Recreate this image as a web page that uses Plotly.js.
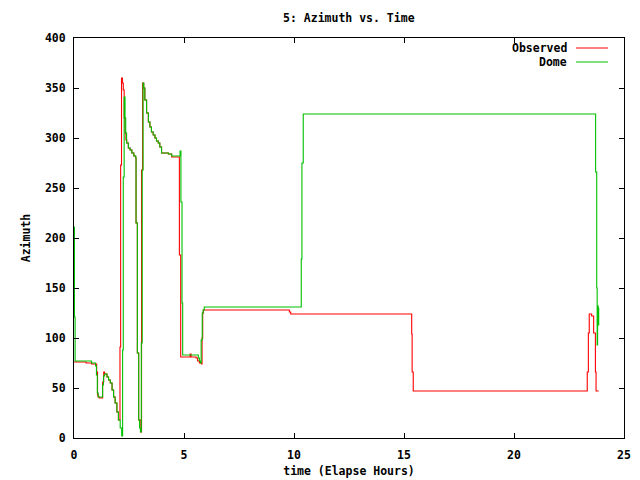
<!DOCTYPE html>
<html>
<head>
<meta charset="utf-8">
<script src="https://cdn.plot.ly/plotly-3.0.1.min.js"></script>
<style>html,body{margin:0;padding:0;background:#fff;}#chart{width:640px;height:480px;}</style>
</head>
<body>
<div id="chart"></div>
<script>
// Observed azimuth (red)
const obsHours = [0.00,0.55,0.80,1.03,1.07,1.10,1.15,1.30,1.35,1.39,1.50,1.57,1.65,1.73,1.80,1.87,1.95,2.02,2.09,2.12,2.16,2.20,2.24,2.28,2.32,2.36,2.40,2.47,2.55,2.63,2.72,2.80,2.82,2.88,2.94,3.04,3.07,3.12,3.17,3.22,3.30,3.38,3.45,3.52,3.60,3.68,3.75,3.83,3.90,3.98,4.13,4.29,4.44,4.79,4.85,5.28,5.32,5.55,5.62,5.70,5.80,5.82,5.85,5.88,9.79,9.85,15.35,15.37,15.42,23.33,23.38,23.42,23.53,23.62,23.70,23.73,23.85];
const obsAz    = [76,75,74,66,43,41,40,56,66,64,61,58,55,48,41,35,26,18,91,273,360,355,348,320,305,298,295,290,288,285,282,280,215,85,18,6,268,355,350,338,325,316,311,306,303,300,297,295,291,285,285,284,281,183,81,84,81,80,77,75,74,100,125,128,126,124,104,66,47,66,105,124,122,105,66,47,47];
// Dome azimuth (green)
const domeHours = [0.00,0.02,0.05,0.80,0.98,1.02,1.06,1.10,1.30,1.34,1.39,1.50,1.57,1.65,1.73,1.80,1.87,1.95,2.02,2.10,2.17,2.21,2.24,2.28,2.32,2.35,2.39,2.47,2.55,2.63,2.72,2.80,2.82,2.88,2.94,2.98,3.02,3.06,3.10,3.14,3.17,3.22,3.30,3.38,3.45,3.52,3.60,3.68,3.75,3.83,3.90,3.98,4.13,4.29,4.44,4.82,4.86,4.91,4.94,5.55,5.65,5.70,5.75,5.78,5.83,5.87,5.92,10.33,10.36,10.42,23.71,23.76,23.78,23.80,23.83,23.85];
const domeAz    = [211,121,77,75,72,63,45,41,53,62,64,61,58,55,48,41,35,26,18,10,2,88,261,341,320,305,295,290,288,285,282,281,215,85,18,10,6,95,268,355,350,338,325,316,311,306,303,300,297,295,291,285,285,284,282,287,236,135,83,83,80,77,75,98,125,128,131,179,275,324,266,150,93,132,113,130];

const seriesNames = ["Observed", "Dome"];
const seriesColors = ["#ff0000", "#00c000"];
const xTicks = [0,5,10,15,20,25];
const yTicks = [0,50,100,150,200,250,300,350,400];

const FONT = "DejaVu Sans Mono, monospace";
const fnt = {family: FONT, size: 11.5, color: "#000", weight: "bold"};

const traces = [
  {x: obsHours, y: obsAz, name: seriesNames[0], type: "scatter", mode: "lines",
   line: {color: seriesColors[0], width: 1.1, shape: "hv"}, showlegend: false},
  {x: domeHours, y: domeAz, name: seriesNames[1], type: "scatter", mode: "lines",
   line: {color: seriesColors[1], width: 1.1, shape: "hv"}, showlegend: false}
];

const axisCommon = {
  showgrid: false, zeroline: false, showline: true, linecolor: "#000", linewidth: 1,
  mirror: "ticks", ticks: "inside", ticklen: 5, tickcolor: "#000", tickwidth: 1,
  tickfont: fnt
};

const layout = {
  width: 640, height: 480,
  margin: {l: 74, r: 16, t: 38, b: 42, pad: 0},
  paper_bgcolor: "#fff", plot_bgcolor: "#fff",
  font: fnt,
  title: {text: "5: Azimuth vs. Time", x: 0.545, xanchor: "center", y: 0.962, yanchor: "middle", font: fnt},
  xaxis: Object.assign({}, axisCommon, {range: [0, 25], tickvals: xTicks, ticktext: xTicks.map(String),
    ticklabelstandoff: 6, title: {text: "time (Elapse Hours)", standoff: 6, font: fnt}}),
  yaxis: Object.assign({}, axisCommon, {range: [0, 400], tickvals: yTicks, ticktext: yTicks.map(String),
    ticklabelstandoff: 5, title: {text: "Azimuth", standoff: 11, font: fnt}}),
  annotations: [
    {xref: "paper", yref: "paper", x: (569-74)/550, y: (438-48)/400, xanchor: "right", yanchor: "middle",
     text: seriesNames[0], showarrow: false, font: fnt},
    {xref: "paper", yref: "paper", x: (569-74)/550, y: (438-62)/400, xanchor: "right", yanchor: "middle",
     text: seriesNames[1], showarrow: false, font: fnt}
  ],
  shapes: [
    {type: "line", xref: "paper", yref: "paper", x0: (576-74)/550, x1: (608-74)/550,
     y0: (438-48)/400, y1: (438-48)/400, line: {color: seriesColors[0], width: 1}},
    {type: "line", xref: "paper", yref: "paper", x0: (576-74)/550, x1: (608-74)/550,
     y0: (438-62)/400, y1: (438-62)/400, line: {color: seriesColors[1], width: 1}}
  ]
};

Plotly.newPlot("chart", traces, layout, {displayModeBar: false, staticPlot: true});
</script>
</body>
</html>
